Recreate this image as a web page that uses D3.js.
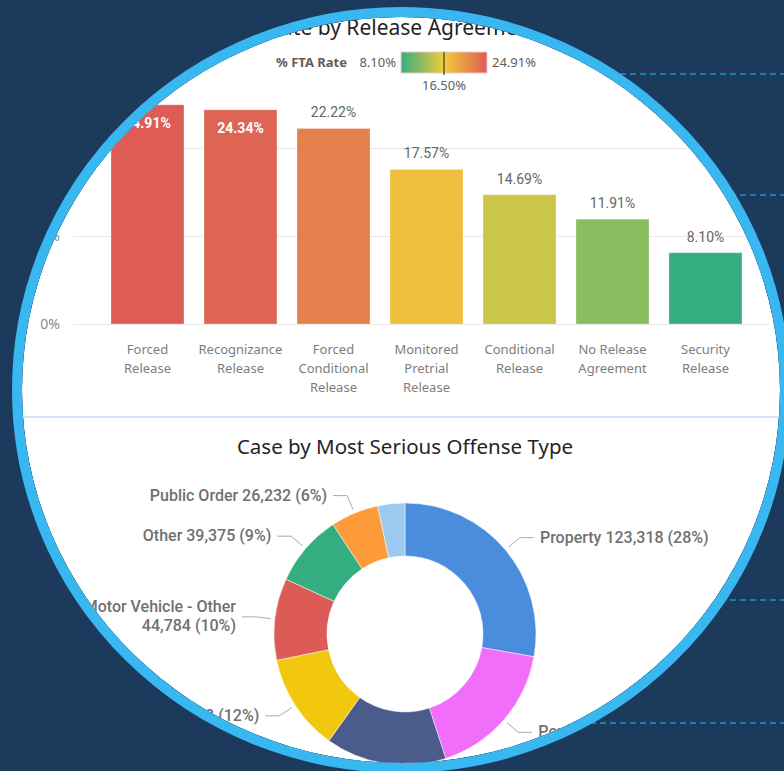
<!DOCTYPE html>
<html>
<head>
<meta charset="utf-8">
<script src="https://cdn.jsdelivr.net/npm/d3@7"></script>
<style>
  body { margin: 0; background: #1b3a5c; }
  svg { display: block; }
</style>
</head>
<body>
<svg id="chart"></svg>
<script>
var width = 784, height = 771;

// FTA rate by release agreement
var releaseTypes = ["Forced Release", "Recognizance Release", "Forced Conditional Release",
  "Monitored Pretrial Release", "Conditional Release", "No Release Agreement", "Security Release"];
var ftaRates = [24.91, 24.34, 22.22, 17.57, 14.69, 11.91, 8.10];
var rateTicks = [0, 10, 20];
var legendStops = [8.10, 16.50, 24.91];

// cases by most serious offense type
var offenseTypes = ["Property", "Person", "Motor Vehicle - DUI", "Drug",
  "Motor Vehicle - Other", "Other", "Public Order", "Weapons"];
var offenseCases = [123318, 76204, 66105, 52893, 44784, 39375, 26232, 14850];
var offenseColors = ["#4a8ddc", "#f06ef9", "#4b5c8c", "#f2c80f",
  "#dd5b57", "#34ae80", "#fd9b3a", "#9bc9f0"];

var titleFont = "'Segoe UI', 'Noto Sans', sans-serif";
var labelFont = "Roboto, 'DejaVu Sans', sans-serif";

var svg = d3.select("#chart")
  .attr("width", width)
  .attr("height", height);

svg.append("rect")
  .attr("width", width)
  .attr("height", height)
  .attr("fill", "#1b3a5c");

// dashed guide lines sitting behind the lens
[74, 195, 600, 723].forEach(function(gy) {
  svg.append("line")
    .attr("x1", 540).attr("x2", width)
    .attr("y1", gy).attr("y2", gy)
    .attr("stroke", "#1f93c6")
    .attr("stroke-width", 1.5)
    .attr("stroke-dasharray", "6,4");
});

var cx = 401, cy = 390, rx = 379, ry = 373;

svg.append("defs").append("clipPath")
  .attr("id", "lens")
  .append("ellipse")
  .attr("cx", cx).attr("cy", cy).attr("rx", rx).attr("ry", ry);

var g = svg.append("g").attr("clip-path", "url(#lens)");

g.append("ellipse")
  .attr("cx", cx).attr("cy", cy).attr("rx", rx).attr("ry", ry)
  .attr("fill", "#ffffff");

// separator between the two visuals
g.append("line")
  .attr("x1", 0).attr("x2", width)
  .attr("y1", 417).attr("y2", 417)
  .attr("stroke", "#d2e3f8")
  .attr("stroke-width", 2);

/* ---------- bar chart ---------- */

var color = d3.scaleLinear()
  .domain(legendStops)
  .range(["#34ae7f", "#f2cc3a", "#dd5c55"]);

var x = d3.scaleBand()
  .domain(releaseTypes)
  .range([101, 752])
  .paddingInner(0.215)
  .paddingOuter(0.1075);

var y = d3.scaleLinear()
  .domain([0, 20])
  .range([324, 148]);

g.append("text")
  .attr("x", 383).attr("y", 35)
  .attr("text-anchor", "middle")
  .style("font-family", titleFont)
  .style("font-size", "21px")
  .attr("fill", "#252423")
  .text("FTA Rate by Release Agreement");

var yAxis = d3.axisLeft(y)
  .tickValues(rateTicks)
  .tickFormat(function(d) { return d + "%"; })
  .tickSize(-(770 - 73))
  .tickPadding(13);

var yg = g.append("g")
  .attr("transform", "translate(73,0)")
  .call(yAxis);
yg.select(".domain").remove();
yg.selectAll("line").attr("stroke", "#e8e8e8");
yg.selectAll("text")
  .attr("fill", "#8a8a8a")
  .style("font-family", titleFont)
  .style("font-size", "14px");

g.selectAll(".bar")
  .data(ftaRates)
  .enter()
  .append("rect")
  .attr("class", "bar")
  .attr("x", function(d, i) { return x(releaseTypes[i]); })
  .attr("y", function(d) { return y(d); })
  .attr("width", x.bandwidth())
  .attr("height", function(d) { return y(0) - y(d); })
  .attr("fill", function(d) { return color(d); })
  .attr("stroke", "#ffffff")
  .attr("stroke-opacity", 0.3);

g.selectAll(".val")
  .data(ftaRates)
  .enter()
  .append("text")
  .attr("class", "val")
  .attr("x", function(d, i) { return x(releaseTypes[i]) + x.bandwidth() / 2; })
  .attr("y", function(d) { return y(d) < 115 ? y(d) + 23 : y(d) - 11; })
  .attr("text-anchor", "middle")
  .style("font-family", labelFont)
  .style("font-size", "14px")
  .style("font-weight", function(d) { return y(d) < 115 ? 700 : 400; })
  .attr("fill", function(d) { return y(d) < 115 ? "#ffffff" : "#666666"; })
  .text(function(d) { return d3.format(".2f")(d) + "%"; });

// category labels, wrapped to the bar width
var cats = g.selectAll(".cat")
  .data(releaseTypes)
  .enter()
  .append("text")
  .attr("class", "cat")
  .attr("text-anchor", "middle")
  .style("font-family", titleFont)
  .style("font-size", "13px")
  .attr("fill", "#7d7d7d");

cats.each(function(d) {
  var t = d3.select(this);
  var words = d.split(" ");
  var lines = [], line = [];
  var probe = t.append("tspan");
  words.forEach(function(w) {
    var next = line.concat([w]);
    probe.text(next.join(" "));
    if (line.length && probe.node().getComputedTextLength() > 78) {
      lines.push(line.join(" "));
      line = [w];
    } else {
      line = next;
    }
  });
  lines.push(line.join(" "));
  probe.remove();
  lines.forEach(function(l, k) {
    t.append("tspan")
      .attr("x", x(d) + x.bandwidth() / 2)
      .attr("y", 354 + k * 19)
      .text(l);
  });
});

// gradient legend
var legendX = d3.scaleLinear()
  .domain([legendStops[0], legendStops[2]])
  .range([401, 487]);

var grad = svg.select("defs").append("linearGradient")
  .attr("id", "ftaGrad");
legendStops.forEach(function(s) {
  grad.append("stop")
    .attr("offset", (legendX(s) - 401) / 86)
    .attr("stop-color", color(s));
});

g.append("text")
  .attr("x", 347).attr("y", 67)
  .attr("text-anchor", "end")
  .style("font-family", titleFont)
  .style("font-size", "13px")
  .style("font-weight", 700)
  .attr("fill", "#605e5c")
  .text("% FTA Rate");

g.append("text")
  .attr("x", 396).attr("y", 67)
  .attr("text-anchor", "end")
  .style("font-family", titleFont)
  .style("font-size", "13px")
  .attr("fill", "#605e5c")
  .text(d3.format(".2f")(legendStops[0]) + "%");

g.append("rect")
  .attr("x", legendX(legendStops[0])).attr("y", 52)
  .attr("width", legendX(legendStops[2]) - legendX(legendStops[0]))
  .attr("height", 21)
  .attr("fill", "url(#ftaGrad)")
  .attr("stroke", "#f3c9c6");

g.append("text")
  .attr("x", 492).attr("y", 67)
  .style("font-family", titleFont)
  .style("font-size", "13px")
  .attr("fill", "#605e5c")
  .text(d3.format(".2f")(legendStops[2]) + "%");

g.append("line")
  .attr("x1", legendX(legendStops[1])).attr("x2", legendX(legendStops[1]))
  .attr("y1", 52).attr("y2", 75)
  .attr("stroke", "#555555")
  .attr("stroke-width", 1.5);

g.append("text")
  .attr("x", legendX(legendStops[1])).attr("y", 90)
  .attr("text-anchor", "middle")
  .style("font-family", titleFont)
  .style("font-size", "13px")
  .attr("fill", "#605e5c")
  .text(d3.format(".2f")(legendStops[1]) + "%");

/* ---------- donut ---------- */

var dcx = 405, dcy = 634, inner = 78, outer = 131;

g.append("text")
  .attr("x", 405).attr("y", 454)
  .attr("text-anchor", "middle")
  .style("font-family", titleFont)
  .style("font-size", "20.5px")
  .attr("fill", "#252423")
  .text("Case by Most Serious Offense Type");

var total = d3.sum(offenseCases);
var pie = d3.pie().sort(null).value(function(d) { return d; });
var arc = d3.arc().innerRadius(inner).outerRadius(outer);
var slices = pie(offenseCases);

var donut = g.append("g").attr("transform", "translate(" + dcx + "," + dcy + ")");

donut.selectAll("path")
  .data(slices)
  .enter()
  .append("path")
  .attr("d", arc)
  .attr("fill", function(d, i) { return offenseColors[i]; })
  .attr("stroke", "#ffffff")
  .attr("stroke-width", 0.5);

// leader lines and labels (smallest slice carries no label)
slices.forEach(function(s, i) {
  if (s.data / total < 0.05) return;
  var mid = (s.startAngle + s.endAngle) / 2;
  var sx = Math.sin(mid), sy = -Math.cos(mid);
  var right = sx > 0;
  var p1 = [sx * (outer + 4), sy * (outer + 4)];
  var p2 = [sx * (outer + 19), sy * (outer + 19)];
  var p3 = [p2[0] + (right ? 14 : -14), p2[1]];

  donut.append("polyline")
    .attr("points", [p1, p2, p3].map(function(p) { return p.join(","); }).join(" "))
    .attr("fill", "none")
    .attr("stroke", "#aaaaaa")
    .attr("stroke-width", 1);

  var value = d3.format(",")(s.data) + " (" + Math.round(s.data / total * 100) + "%)";
  var name = offenseTypes[i];
  var lines = (name + " " + value).length > 26 ? [name, value] : [name + " " + value];

  var t = donut.append("text")
    .attr("text-anchor", right ? "start" : "end")
    .style("font-family", labelFont)
    .style("font-size", "16px")
    .style("font-weight", 500)
    .attr("fill", "#707070");
  lines.forEach(function(l, k) {
    t.append("tspan")
      .attr("x", p3[0] + (right ? 6 : -6))
      .attr("y", p3[1] + 5 + (k - (lines.length - 1) / 2) * 19)
      .text(l);
  });
});

// lens ring
svg.append("ellipse")
  .attr("cx", cx).attr("cy", cy)
  .attr("rx", rx + 5).attr("ry", ry + 5)
  .attr("fill", "none")
  .attr("stroke", "#38b7f1")
  .attr("stroke-width", 10);
</script>
</body>
</html>
